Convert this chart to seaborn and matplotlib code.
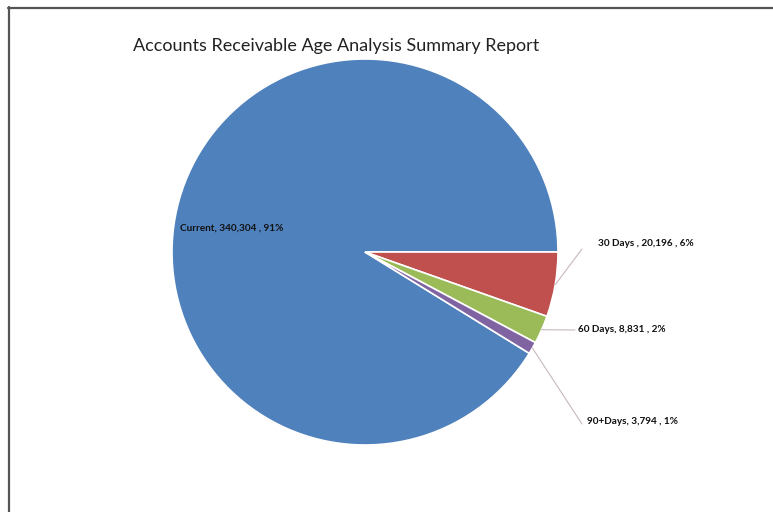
import numpy as np
import matplotlib
matplotlib.use("Agg")
import matplotlib.pyplot as plt
from matplotlib.lines import Line2D
import seaborn as sns

# Receivables by age bucket
categories = ["Current", "30 Days", "60 Days", "90+Days"]
amounts = [340304, 20196, 8831, 3794]
pct_labels = ["91%", "6%", "2%", "1%"]
colors = ["#4F81BD", "#C0504D", "#9BBB59", "#8064A2"]

sns.set_theme(style="white")
plt.rcParams["font.family"] = ["Lato", "DejaVu Sans"]

W, H, DPI = 773, 512, 100
fig = plt.figure(figsize=(W / DPI, H / DPI), dpi=DPI)
ax = fig.add_axes([0, 0, 1, 1])

# pie centre / radius in pixels
cx, cy, R = 365, 252, 193

def px(x, y):
    return (x - cx) / R, (cy - y) / R

share = amounts[0] / sum(amounts)
wedges, _ = ax.pie(
    amounts,
    colors=sns.color_palette(colors),
    startangle=360 * share,
    counterclock=False,
    radius=1.0,
    wedgeprops=dict(edgecolor="white", linewidth=1.2),
)
ax.set_xlim(-cx / R, (W - cx) / R)
ax.set_ylim(-(H - cy) / R, cy / R)
ax.set_aspect("equal")
ax.axis("off")

label_text = [f"{c}, {a:,} , {p}" for c, a, p in zip(categories, amounts, pct_labels)]
label_text[1] = f"{categories[1]} , {amounts[1]:,} , {pct_labels[1]}"

font = dict(fontsize=7.2, fontweight="bold", color="#111111")

# label inside the large slice
ax.text(*px(180, 228), label_text[0], ha="left", va="center", **font)

# outside labels with leader lines
outside_pos = [(598, 243), (578, 329), (587, 421)]
line_end = [(582, 249), (575, 330), (582, 424)]
for i, w in enumerate(wedges[1:], start=1):
    mid = np.deg2rad((w.theta1 + w.theta2) / 2)
    anchor = (np.cos(mid), np.sin(mid))
    ax.annotate(
        "",
        xy=anchor,
        xytext=px(*line_end[i - 1]),
        arrowprops=dict(arrowstyle="-", color="#C8B8B8", lw=0.8,
                        shrinkA=0, shrinkB=0),
    )
    ax.text(*px(*outside_pos[i - 1]), label_text[i], ha="left", va="center", **font)

fig.text(336 / W, 1 - 46 / H, "Accounts Receivable Age Analysis Summary Report",
         ha="center", va="center", fontsize=13, color="#222222")

# chart frame
fig.add_artist(Line2D([8.5 / W, 8.5 / W], [0, 1 - 7 / H], transform=fig.transFigure,
                      color="#555555", lw=1.6))
fig.add_artist(Line2D([8 / W, 1], [1 - 7.5 / H, 1 - 7.5 / H], transform=fig.transFigure,
                      color="#555555", lw=1.6))

fig.savefig("out.png", dpi=DPI, facecolor="white")
